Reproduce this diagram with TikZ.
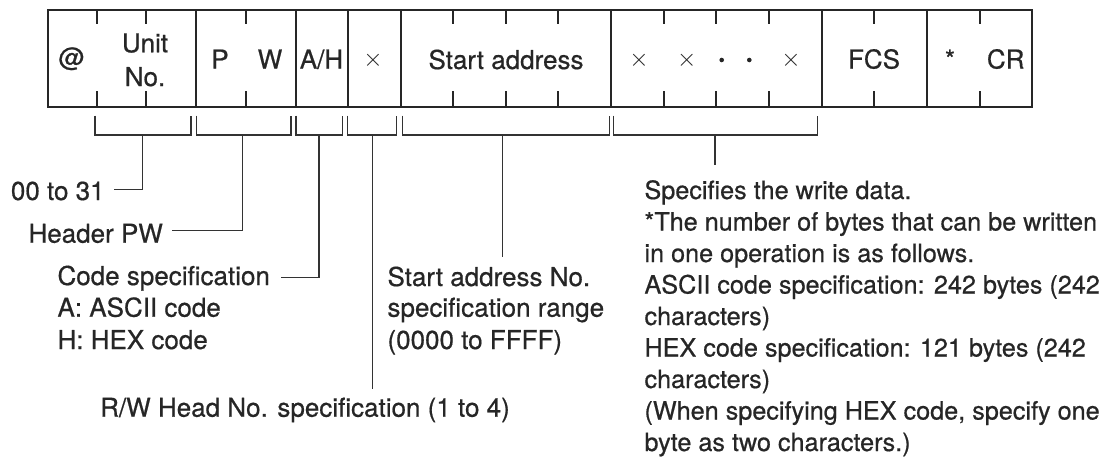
\documentclass[tikz,border=0pt]{standalone}
\usepackage{fontspec}
\setmainfont[FakeBold=0.6]{TeX Gyre Heros}
\begin{document}
\begin{tikzpicture}[x=1pt,y=-1pt,
  font=\fontsize{26}{31.5}\selectfont,
  frame/.style={line width=2pt, draw=black!85},
  brk/.style={line width=1.3pt, draw=black!80},
  txt/.style={inner sep=0pt, anchor=base west, text=black!85},
  rtxt/.style={txt, font=\fontsize{25.2}{31.5}\selectfont},
  cell/.style={inner sep=0pt, anchor=base, text=black!85},
  mulx/.style={inner sep=0pt, anchor=base, text=black!85, font=\fontsize{27}{30}\selectfont},
  dotmark/.style={circle, fill=black!85, inner sep=0pt, minimum size=4.6pt}]
\useasboundingbox (0,0) rectangle (1103,458);

% frame, dividers and ticks
\draw[frame] (47.7,10) rectangle (1032,107);
\foreach \x in {195.7,295.7,347.7,401,611,821.7,927}
  \draw[frame] (\x,10) -- (\x,107);
\foreach \x in {96.7,145.7,246,452.7,506,557.7,663.7,715.7,769,874,979.7}{
  \draw[frame] (\x,10) -- (\x,24.3);
  \draw[frame] (\x,91) -- (\x,107);
}

% cell texts
\node[cell] (cat) at (71.7,66.5) {@};
\node[cell] (cunit) at (145,52.3) {Unit};
\node[cell] (cno) at (145,86) {No.};
\node[cell] (cp) at (220,68.5) {P};
\node[cell] (cw) at (270,68.5) {W};
\node[cell] (cah) at (321.5,68.5) {A/H};
\node[mulx] (cx1) at (373,66.5) {$\times$};
\node[cell] (csa) at (506,69) {Start address};
\node[mulx] (cx2) at (639,66.5) {$\times$};
\node[mulx] (cx3) at (686.7,66.5) {$\times$};
\node[dotmark] (cd1) at (721.7,60) {};
\node[dotmark] (cd2) at (749.3,60) {};
\node[mulx] (cx4) at (791,66.5) {$\times$};
\node[cell] (cfcs) at (874,68.5) {FCS};
\node[cell] (cast) at (950,68.5) {*};
\node[cell] (ccr) at (1005.7,68.5) {CR};

% brackets
\newcommand{\bracketdraw}[4]{%
  \draw[brk] (#1,115.7) |- (#2,135) -- (#2,115.7);
  \coordinate (#4) at (#3,135);}
\bracketdraw{95}{191}{142.7}{b1}
\bracketdraw{196.7}{291}{242.3}{b2}
\bracketdraw{296}{342.3}{319}{b3}
\bracketdraw{347.3}{396.7}{372.7}{b4}
\bracketdraw{402.7}{609.3}{502.3}{b5}
\bracketdraw{613.3}{817.3}{715}{b6}

% labels
\node[txt] (l1) at (10.7,200) {00 to 31};
\node[txt] (l2) at (28.3,242.7) {Header PW};
\node[txt] (l3a) at (57.3,285) {Code specification};
\node[txt] (l3b) at (57.3,316.7) {A: ASCII code};
\node[txt] (l3c) at (57.3,349) {H: HEX code};
\node[txt] (rw) at (100,416.7) {R/W Head No. specification (1 to 4)};
\node[txt] (sa1) at (387.3,286) {Start address No.};
\node[txt] (sa2) at (387.3,316.7) {specification range};
\node[txt] (sa3) at (387.3,349) {(0000 to FFFF)};
\node[rtxt] (r1) at (644.3,199) {Specifies the write data.};
\node[rtxt] (r2) at (644.3,230.5) {*The number of bytes that can be written};
\node[rtxt] (r3) at (644.3,262) {in one operation is as follows.};
\node[rtxt] (r4) at (644.3,293.5) {ASCII code specification: 242 bytes (242};
\node[rtxt] (r5) at (644.3,325) {characters)};
\node[rtxt] (r6) at (644.3,356.5) {HEX code specification: 121 bytes (242};
\node[rtxt] (r7) at (644.3,388) {characters)};
\node[rtxt] (r8) at (644.3,419.5) {(When specifying HEX code, specify one};
\node[rtxt] (r9) at (644.3,451) {byte as two characters.)};

% connectors
\draw[brk] (b1) |- ([shift={(9,-10.7)}]l1.base east);
\draw[brk] (b2) |- ([shift={(9,-12)}]l2.base east);
\draw[brk] (b3) |- ([shift={(11,-7.3)}]l3a.base east);
\draw[brk, shorten >=8pt] (b4) -- (b4 |- rw.north);
\draw[brk, shorten >=9pt] (b5) -- (b5 |- sa1.north);
\draw[brk, shorten >=15pt] (b6) -- (b6 |- r1.north);
\end{tikzpicture}
\end{document}
